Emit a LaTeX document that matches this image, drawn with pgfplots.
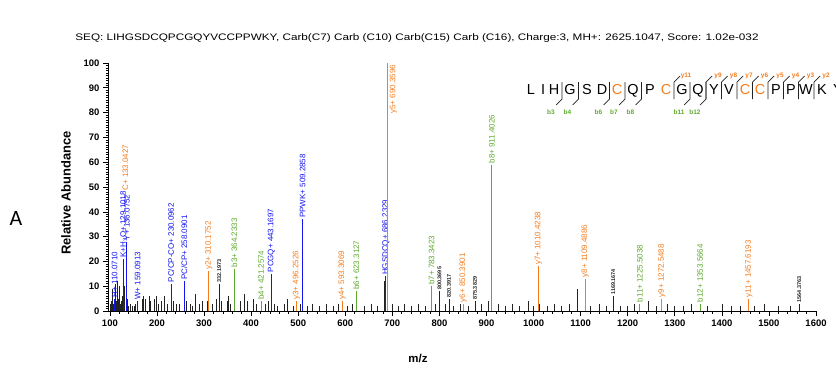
\documentclass[border=0pt]{standalone}
\usepackage{pgfplots}
\pgfplotsset{compat=1.18}
\usepackage{graphicx}
\usepackage{fontspec}
\setmainfont{Liberation Sans}
\newfontfamily\carlito{Carlito}
\definecolor{bluec}{RGB}{20,20,240}
\definecolor{orangec}{RGB}{245,125,30}
\definecolor{greenc}{RGB}{95,170,45}
\definecolor{pkblack}{RGB}{35,35,35}
\newcommand{\pk}[4]{\addplot[#3,line width=1bp] coordinates {(#1,0) (#1,#2)} node[pos=1,rotate=90,anchor=west,inner sep=1bp,font=\fontsize{8}{9}\selectfont,text=#3]{#4};}
\newcommand{\bk}[3]{\addplot[pkblack,line width=0.8bp] coordinates {(#1,0) (#1,#2)} node[pos=1,rotate=90,anchor=west,inner sep=1bp,font=\fontsize{5.5}{6}\selectfont\bfseries]{#3};}
\begin{document}
\begin{tikzpicture}[x=1bp,y=1bp]
\useasboundingbox (0,0) rectangle (836,383);
\begin{axis}[
  at={(108bp,72bp)}, anchor=south west, scale only axis,
  width=708bp, height=248bp,
  xmin=96, xmax=1600, ymin=0, ymax=100,
  axis lines=left, axis line style={-, line width=0.8bp},
  xtick={100,200,...,1600}, ytick={0,10,...,100},
  minor x tick num=4, minor y tick num=9,
  tick align=outside, major tick length=5bp, minor tick length=2.5bp,
  tick style={black, line width=0.6bp},
  tick label style={font=\fontsize{9.5}{10}\selectfont\bfseries},
  /pgf/number format/assume math mode=true,
  xticklabel style={/pgf/number format/1000 sep={}},
  clip=false,
]
% unlabelled background peaks
\addplot[ycomb, pkblack, line width=0.7bp, mark=none] coordinates {
(101,3) (103,4) (105,9) (107,3) (112,11) (114,4) (116,12) (118,5) (120,10) (122,3)
(125,4) (127,6) (131,10) (138,5) (140,2) (143,3) (147,2) (152,2) (155,3) (168,5)
(172,6) (175,5) (183,6) (187,4) (194,5) (199,6) (203,3) (210,4) (216,6) (222,3)
(235,4) (241,3) (248,3) (262,4) (270,3) (276,2) (281,7) (290,3) (297,4) (306,4)
(318,3) (326,5) (337,4) (349,4) (352,6) (356,3) (378,4) (386,7) (392,4) (404,5)
(411,3) (430,3) (436,4) (449,3) (456,2) (470,3) (478,5) (490,2) (505,3) (520,2)
(530,3) (545,2) (560,3) (575,2) (585,3) (605,2) (615,3) (640,2) (655,3) (668,2)
(684,12) (700,3) (712,2) (725,3) (740,2) (755,3) (770,2) (792,3) (812,3) (830,2)
(845,3) (862,2) (890,3) (905,4) (911,6) (925,3) (940,2) (955,3) (970,2) (988,4)
(1000,2) (1013,3) (1030,2) (1045,3) (1060,2) (1075,3) (1092,9) (1120,2) (1140,3)
(1155,2) (1185,2) (1200,2) (1215,3) (1243,4) (1260,2) (1285,3) (1300,2) (1318,2)
(1335,3) (1370,2) (1400,3) (1420,2) (1440,2) (1470,2) (1490,3) (1520,2) (1545,2)
};
% labelled black peaks
\bk{332.1973}{11}{332.1973}
\bk{800.3695}{8}{800.3695}
\bk{820.3917}{5}{820.3917}
\bk{875.3829}{4}{875.3829}
\bk{1169.1674}{6}{1169.1674}
\bk{1564.3763}{3}{1564.3763}
% blue internal / immonium ions
\pk{110.0710}{5}{bluec}{H+ 110.0710}
\pk{129.1018}{21}{bluec}{K+H$_2$O+ 129.1018}
\pk{136.0752}{28}{bluec}{Y+ 136.0752}
\pk{159.0913}{4}{bluec}{W+ 159.0913}
\pk{230.0962}{11}{bluec}{PC/CP-CO+ 230.0962}
\pk{258.0901}{12}{bluec}{PC/CP+ 258.0901}
\pk{443.1697}{15}{bluec}{PCGQ+ 443.1697}
\pk{509.2858}{37}{bluec}{PPWK+ 509.2858}
\pk{686.2329}{14}{bluec}{HGSDCQ+ 686.2329}
% y ions
\addplot[orangec,dashed,line width=0.8bp] coordinates {(133.0427,30) (133.0427,48)} node[pos=1,rotate=90,anchor=west,inner sep=1bp,font=\fontsize{8}{9}\selectfont,text=orangec]{C+ 133.0427};
\pk{310.1752}{16}{orangec}{y2+ 310.1752}
\pk{496.2526}{4}{orangec}{y3+ 496.2526}
\pk{593.3069}{4}{orangec}{y4+ 593.3069}
\addplot[orangec,line width=1bp] coordinates {(690.3596,0) (690.3596,100)} node[pos=1,rotate=90,anchor=north east,inner sep=1.5bp,font=\fontsize{8}{9}\selectfont,text=orangec]{y5+ 690.3596};
\pk{850.3901}{3}{orangec}{y6+ 850.3901}
\pk{1010.4238}{18}{orangec}{y7+ 1010.4238}
\pk{1109.4886}{13}{orangec}{y8+ 1109.4886}
\pk{1272.5488}{5}{orangec}{y9+ 1272.5488}
\pk{1457.6193}{5}{orangec}{y11+ 1457.6193}
% b ions
\pk{364.2333}{17}{greenc}{b3+ 364.2333}
\pk{421.2574}{4}{greenc}{b4+ 421.2574}
\pk{623.3127}{8}{greenc}{b6+ 623.3127}
\pk{783.3423}{10}{greenc}{b7+ 783.3423}
\pk{911.4026}{59}{greenc}{b8+ 911.4026}
\pk{1225.5038}{3}{greenc}{b11+ 1225.5038}
\pk{1353.5664}{3}{greenc}{b12+ 1353.5664}
\end{axis}
% texts
\node[font=\fontsize{9.5}{10}\selectfont] at (417,345) {\scalebox{1.24}[1]{SEQ: LIHGSDCQPCGQYVCCPPWKY, Carb(C7) Carb (C10) Carb(C15) Carb (C16), Charge:3, MH+: 2625.1047, Score: 1.02e-032}};
\node[rotate=90,font=\fontsize{13}{14}\selectfont\bfseries] at (66,190) {Relative Abundance};
\node[font=\fontsize{11.5}{12}\selectfont\bfseries] at (418,25) {m/z};
\node[font=\carlito\fontsize{22}{24}\selectfont] at (16,165) {A};
% sequence panel
\foreach \x/\c/\col in {531/L/black,543/I/black,554/H/black,570/G/black,587/S/black,602/D/black,617/C/orangec,633/Q/black,650/P/black,666/C/orangec,682/G/black,698/Q/black,714/Y/black,729/V/black,745/C/orangec,760/C/orangec,776/P/black,791/P/black,806/W/black,822/K/black,838/Y/black}
  \node[anchor=base,font=\fontsize{14.5}{15}\selectfont,text=\col,inner sep=0] at (\x,289) {\c};
\foreach \x/\l in {562/b3,578.5/b4,609.5/b6,625/b7,641.5/b8,690/b11,706/b12}{
  \draw[line width=0.7bp,pkblack] (\x,301) -- (\x,284) -- (\x-6,278);
  \node[font=\fontsize{6.5}{7}\selectfont\bfseries,text=greenc] at (\x-11,271) {\l};
}
\foreach \x/\l in {674/y11,706/y9,721.5/y8,737/y7,752.5/y6,768/y5,783.5/y4,798.5/y3,814/y2}{
  \draw[line width=0.7bp,pkblack] (\x,284) -- (\x,301) -- (\x+6,307);
  \node[font=\fontsize{6.5}{7}\selectfont\bfseries,text=orangec] at (\x+12,307) {\l};
}
\end{tikzpicture}
\end{document}
